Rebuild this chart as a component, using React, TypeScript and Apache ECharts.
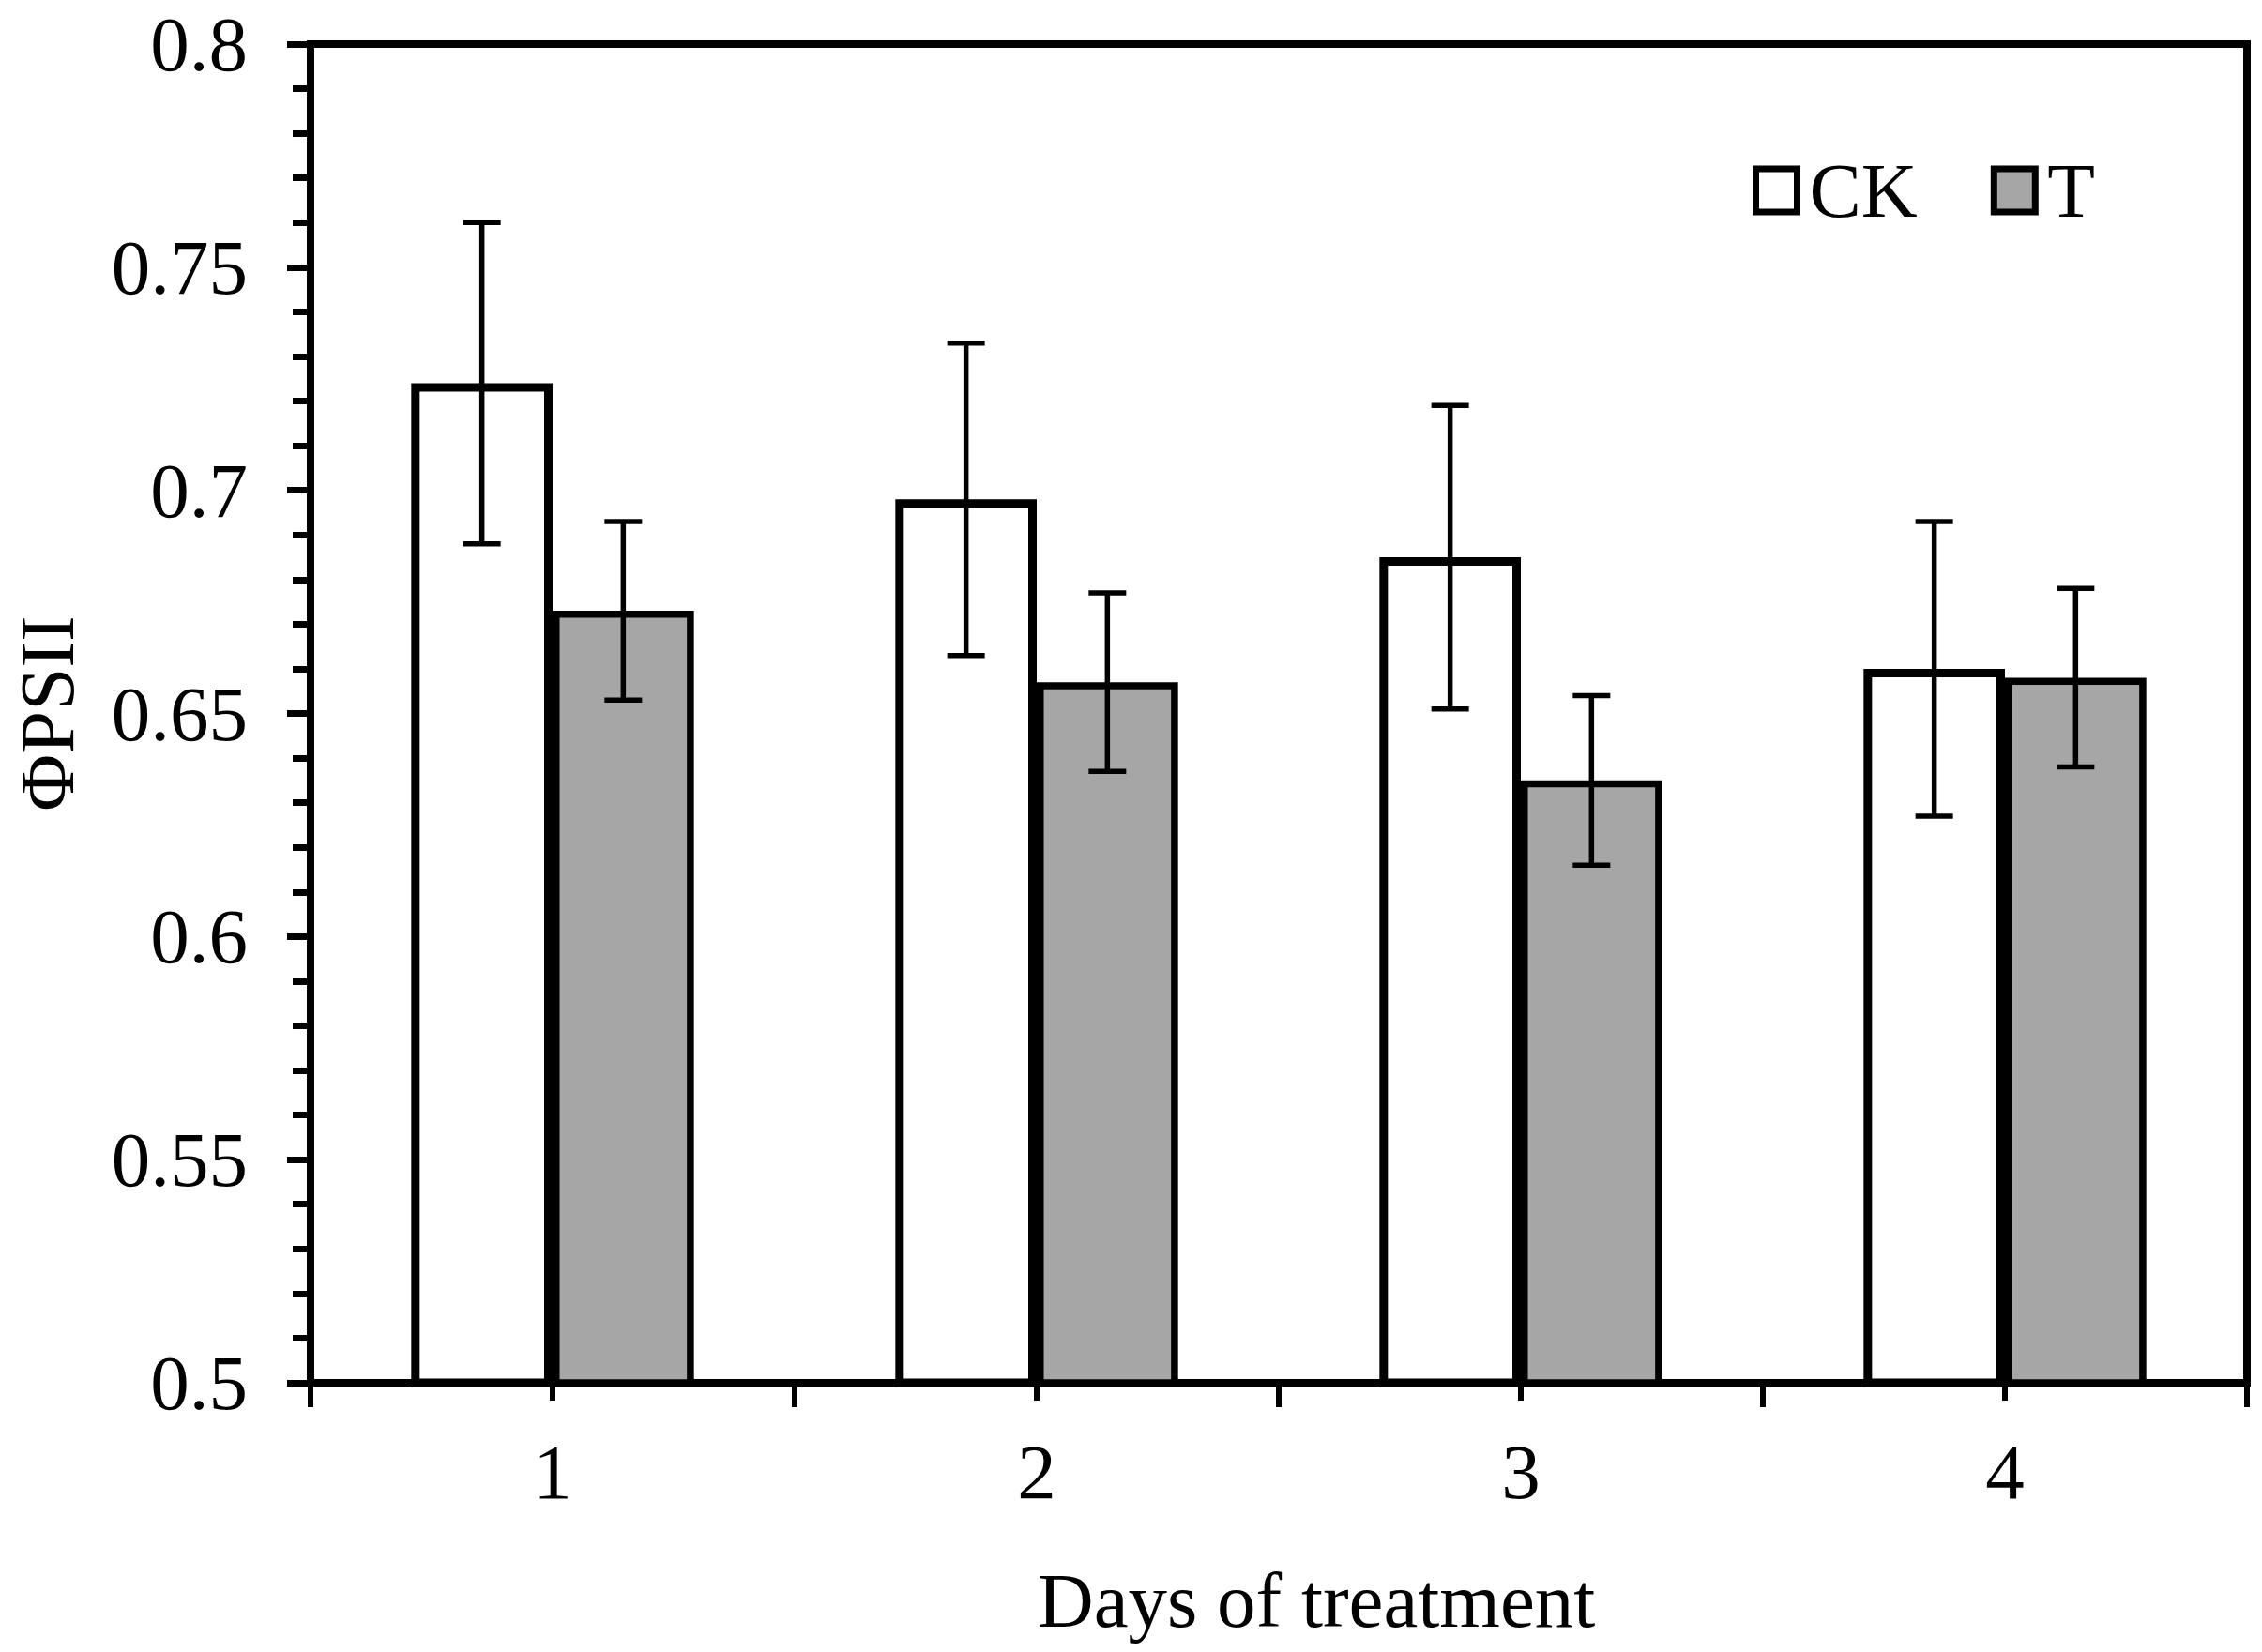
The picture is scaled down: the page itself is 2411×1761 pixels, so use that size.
import React, { useEffect, useRef } from "react";
import * as echarts from "echarts";

const categories = ["1", "2", "3", "4"];
const ckValues = [0.724, 0.698, 0.685, 0.66];
const ckErrors = [0.036, 0.035, 0.034, 0.033];
const tValues = [0.673, 0.657, 0.635, 0.658];
const tErrors = [0.02, 0.02, 0.019, 0.02];
const seriesNames = ["CK", "T"];
const yMin = 0.5;
const yMax = 0.8;
const yStep = 0.05;

const FONT = "'Liberation Serif', 'Times New Roman', serif";
const BAR_FRACTION = 0.292;

export default function App() {
  const ref = useRef<HTMLDivElement>(null);

  useEffect(() => {
    if (!ref.current) return;
    const chart = echarts.init(ref.current, undefined, { renderer: "svg" });

    const makeErr = (values: number[], errs: number[], side: number) =>
      values.map((v, i) => [i, v - errs[i], v + errs[i], side]);

    const renderErr = (params: any, api: any) => {
      const idx = api.value(0);
      const lo = api.value(1);
      const hi = api.value(2);
      const side = api.value(3);
      const band = api.size([1, 0])[0];
      const off = (side * band * BAR_FRACTION) / 2;
      const pLo = api.coord([idx, lo]);
      const pHi = api.coord([idx, hi]);
      const x = pLo[0] + off;
      const cap = 20;
      const style = { stroke: "#000", lineWidth: 5.5 };
      return {
        type: "group",
        children: [
          { type: "line", shape: { x1: x, y1: pHi[1], x2: x, y2: pLo[1] }, style },
          { type: "line", shape: { x1: x - cap, y1: pHi[1], x2: x + cap, y2: pHi[1] }, style },
          { type: "line", shape: { x1: x - cap, y1: pLo[1], x2: x + cap, y2: pLo[1] }, style },
        ],
      };
    };

    const option: any = {
      animation: false,
      backgroundColor: "#fff",
      textStyle: { fontFamily: FONT, color: "#000" },
      grid: {
        left: 315,
        right: 16,
        top: 47,
        bottom: 287,
        show: true,
        borderColor: "#000",
        borderWidth: 8,
        backgroundColor: "transparent",
      },
      legend: {
        data: seriesNames,
        left: 1868,
        top: 158,
        icon: "rect",
        itemWidth: 44,
        itemHeight: 46,
        itemGap: 78,
        padding: 0,
        itemStyle: { borderWidth: 7, borderColor: "#000" },
        textStyle: {
          fontFamily: FONT,
          fontSize: 83,
          color: "#000",
          lineHeight: 90,
          padding: [0, 0, 0, 8],
        },
      },
      xAxis: [
        {
          type: "category",
          data: categories,
          boundaryGap: true,
          name: "Days of treatment",
          nameLocation: "middle",
          nameGap: 190,
          nameTextStyle: { fontFamily: FONT, fontSize: 83, color: "#000", padding: [0, 0, 0, 80] },
          axisLine: { show: true, lineStyle: { color: "#000", width: 8 } },
          axisTick: { show: true, length: 26, lineStyle: { color: "#000", width: 6 } },
          axisLabel: { fontFamily: FONT, fontSize: 83, color: "#000", margin: 53 },
          splitLine: { show: false },
        },
        {
          type: "category",
          data: categories,
          boundaryGap: true,
          position: "bottom",
          axisLine: { show: false },
          axisTick: { show: true, alignWithLabel: true, length: 19, lineStyle: { color: "#000", width: 6 } },
          axisLabel: { show: false },
          splitLine: { show: false },
        },
      ],
      yAxis: {
        type: "value",
        min: yMin,
        max: yMax,
        interval: yStep,
        name: "ΦPSII",
        nameLocation: "middle",
        nameGap: 240,
        nameRotate: 90,
        nameTextStyle: { fontFamily: FONT, fontSize: 83, color: "#000" },
        axisLine: { show: true, lineStyle: { color: "#000", width: 8 } },
        axisTick: { show: true, length: 25, lineStyle: { color: "#000", width: 7 } },
        minorTick: { show: true, splitNumber: 5, length: 19, lineStyle: { color: "#000", width: 7 } },
        axisLabel: { fontFamily: FONT, fontSize: 83, color: "#000", margin: 67 },
        splitLine: { show: false },
      },
      series: [
        {
          name: "CK",
          type: "bar",
          data: ckValues,
          barWidth: BAR_FRACTION * 100 + "%",
          barGap: "0%",
          itemStyle: { color: "#fff", borderColor: "#000", borderWidth: 9 },
          z: 2,
        },
        {
          name: "T",
          type: "bar",
          data: tValues,
          barWidth: BAR_FRACTION * 100 + "%",
          barGap: "0%",
          itemStyle: { color: "#a6a6a6", borderColor: "#000", borderWidth: 7.5 },
          z: 3,
        },
        {
          type: "custom",
          name: "CK err",
          data: makeErr(ckValues, ckErrors, -1),
          renderItem: renderErr,
          encode: { x: 0, y: [1, 2] },
          silent: true,
          z: 5,
        },
        {
          type: "custom",
          name: "T err",
          data: makeErr(tValues, tErrors, 1),
          renderItem: renderErr,
          encode: { x: 0, y: [1, 2] },
          silent: true,
          z: 5,
        },
      ],
    };

    chart.setOption(option);
    return () => chart.dispose();
  }, []);

  return (
    <div
      ref={ref}
      style={{ position: "fixed", left: 0, top: 0, width: 2411, height: 1761, background: "#fff" }}
    />
  );
}
